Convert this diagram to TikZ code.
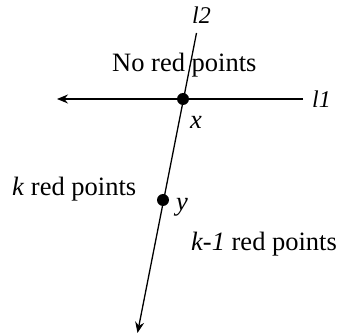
\documentclass[tikz,border=0pt]{standalone}
\usepackage{fontspec}
\setmainfont{Liberation Serif}
\usetikzlibrary{arrows.meta, positioning}

\tikzset{
   dotpt/.style={circle, fill, inner sep=0pt, minimum size=12pt},
   linelab/.style={anchor=base west, inner sep=0pt, font=\fontsize{24}{28}\selectfont\itshape},
   txt/.style={anchor=base west, inner sep=0pt}
}

\begin{document}
\begin{tikzpicture}[x=1pt, y=-1pt, font=\fontsize{26.5}{31}\selectfont]
   \useasboundingbox (0,0) rectangle (338,334);
   % Points x and y
   \node[dotpt] (x) at (183,99) {};
   \node[dotpt] (y) at (163,200) {};
   % l1
   \coordinate (l1r) at (303,99);
   \coordinate (l1l) at (57,99);
   \draw[-{Stealth[length=11pt, width=9pt]}, line width=1.3pt] (l1r) -- (l1l);
   % l2
   \coordinate (l2t) at (196.5,33);
   \coordinate (l2b) at (137.5,333);
   \draw[-{Stealth[length=11pt, width=9pt]}, line width=1.3pt] (l2t) -- (l2b);
   % Line labels
   \node[linelab] (lab1) at (312,108) {l1};
   \node[linelab] (lab2) at (192,24) {l2};
   % Point labels
   \node[txt] (xlab) at (190,129) {\textit{x}};
   \node[txt] (ylab) at (176,211) {\textit{y}};
   % Regions
   \node[txt] (none) at (112,72) {No red points};
   \node[txt] (kpts) at (12,196) {\textit{k} red points};
   \node[txt] (kmpts) at (191,251) {\textit{k-1} red points};
\end{tikzpicture}
\end{document}
